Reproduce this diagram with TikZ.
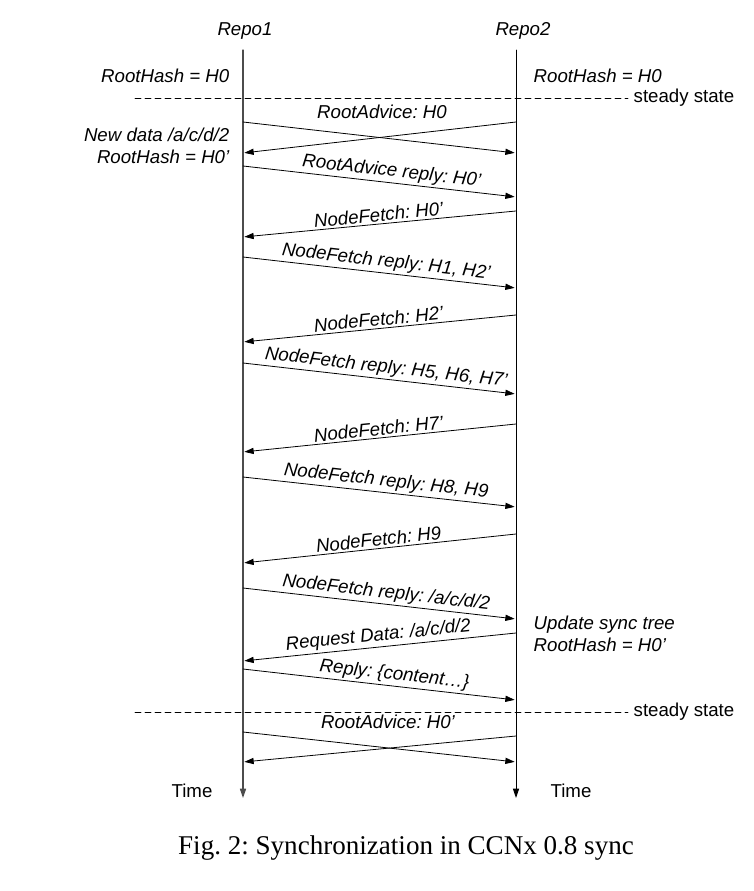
\documentclass[tikz,border=0pt]{standalone}
\usepackage{fontspec}
\setmainfont{Liberation Sans}
\newfontfamily\captionfont{Liberation Serif}
\usetikzlibrary{arrows.meta}
\frenchspacing
\tikzstyle{every node}=[font=\fontsize{14}{16}\selectfont]
\tikzset{
  msg/.style={->,line width=0.6pt,shorten >=1pt},
  lbl/.style={font=\fontsize{14}{16}\selectfont\itshape,sloped,above,pos=0.52,inner sep=1.5pt},
  state/.style={font=\fontsize{14}{16.5}\selectfont\itshape,align=left},
  steady/.style={dashed,dash pattern=on 4.5pt off 3pt,line width=0.5pt}
}
\begin{document}
\begin{tikzpicture}[line cap=round,line join=round,>={Triangle[length=7pt,width=4.6pt]},x=0.75pt,y=0.75pt]
\useasboundingbox (0,0) rectangle (753,-891);
% repositories and time axes
\node[font=\fontsize{14}{16}\selectfont\itshape] (repo1) at (245,-31) {Repo1};
\node[font=\fontsize{14}{16}\selectfont\itshape] (repo2) at (523,-31) {Repo2};
\coordinate (top1) at (243,-50);
\coordinate (bot1) at (243,-798);
\coordinate (top2) at (516,-50);
\coordinate (bot2) at (516,-798);
\draw [->,line width=0.9pt,color=black!70] (top1) -- (bot1);
\draw [->,line width=0.7pt] (top2) -- (bot2);
\node (time1) at (192,-791) {Time};
\node (time2) at (571,-791) {Time};
% steady state lines
\coordinate (ss1a) at (135,-98);
\coordinate (ss1b) at (628,-98);
\coordinate (ss2a) at (135,-712);
\coordinate (ss2b) at (628,-712);
\draw [steady] (ss1a) -- (ss1b) node[anchor=west,inner sep=4pt] (st1) {steady state};
\draw [steady] (ss2a) -- (ss2b) node[anchor=west,inner sep=4pt] (st2) {steady state};
% states
\node[state,anchor=east] (hash1) at (234,-76) {RootHash = H0};
\node[state,anchor=west] (hash2) at (529,-76) {RootHash = H0};
\node[state,align=right,anchor=east] (newdata) at (234,-146) {New data /a/c/d/2\\RootHash = H0'};
\node[state,anchor=west] (update) at (529,-634) {Update sync tree\\RootHash = H0'};
% end points of the messages on both time axes
\foreach \n/\yl/\yr in {1/122/153,2/153/122,3/166/197,4/237/211,5/257/288,6/342/315,
  7/363/394,8/452/424,9/477/507,10/563/534,11/588/619,12/661/633,13/669/700,
  14/732/762,15/762/736}{
  \coordinate (l\n) at (243,-\yl);
  \coordinate (r\n) at (516,-\yr);
}
% messages
\draw [msg] (l1) -- (r1);
\draw [msg] (r2) -- (l2);
\node[font=\fontsize{14}{16}\selectfont\itshape,anchor=south,inner sep=1.5pt] (adv1) at (382,-121) {RootAdvice: H0};
\draw [msg] (l3) -- node[lbl,pos=0.54] (m3) {RootAdvice reply: H0'} (r3);
\draw [msg] (r4) -- node[lbl,pos=0.5] (m4) {NodeFetch: H0'} (l4);
\draw [msg] (l5) -- node[lbl] (m5) {NodeFetch reply: H1, H2'} (r5);
\draw [msg] (r6) -- node[lbl,pos=0.5] (m6) {NodeFetch: H2'} (l6);
\draw [msg] (l7) -- node[lbl] (m7) {NodeFetch reply: H5, H6, H7'} (r7);
\draw [msg] (r8) -- node[lbl,pos=0.5] (m8) {NodeFetch: H7'} (l8);
\draw [msg] (l9) -- node[lbl] (m9) {NodeFetch reply: H8, H9} (r9);
\draw [msg] (r10) -- node[lbl,pos=0.5] (m10) {NodeFetch: H9} (l10);
\draw [msg] (l11) -- node[lbl] (m11) {NodeFetch reply: /a/c/d/2} (r11);
\draw [msg] (r12) -- node[lbl,pos=0.5] (m12) {Request Data: /a/c/d/2} (l12);
\draw [msg] (l13) -- node[lbl,pos=0.55] (m13) {Reply: \{content\ldots\}} (r13);
\draw [msg] (l14) -- (r14);
\draw [msg] (r15) -- (l15);
\node[font=\fontsize{14}{16}\selectfont\itshape,anchor=south,inner sep=1.5pt] (adv2) at (388,-731) {RootAdvice: H0'};
% caption
\node[font=\captionfont\fontsize{20.3}{23}\selectfont] (caption) at (406,-848) {Fig. 2: Synchronization in CCNx 0.8 sync};
\end{tikzpicture}
\end{document}
